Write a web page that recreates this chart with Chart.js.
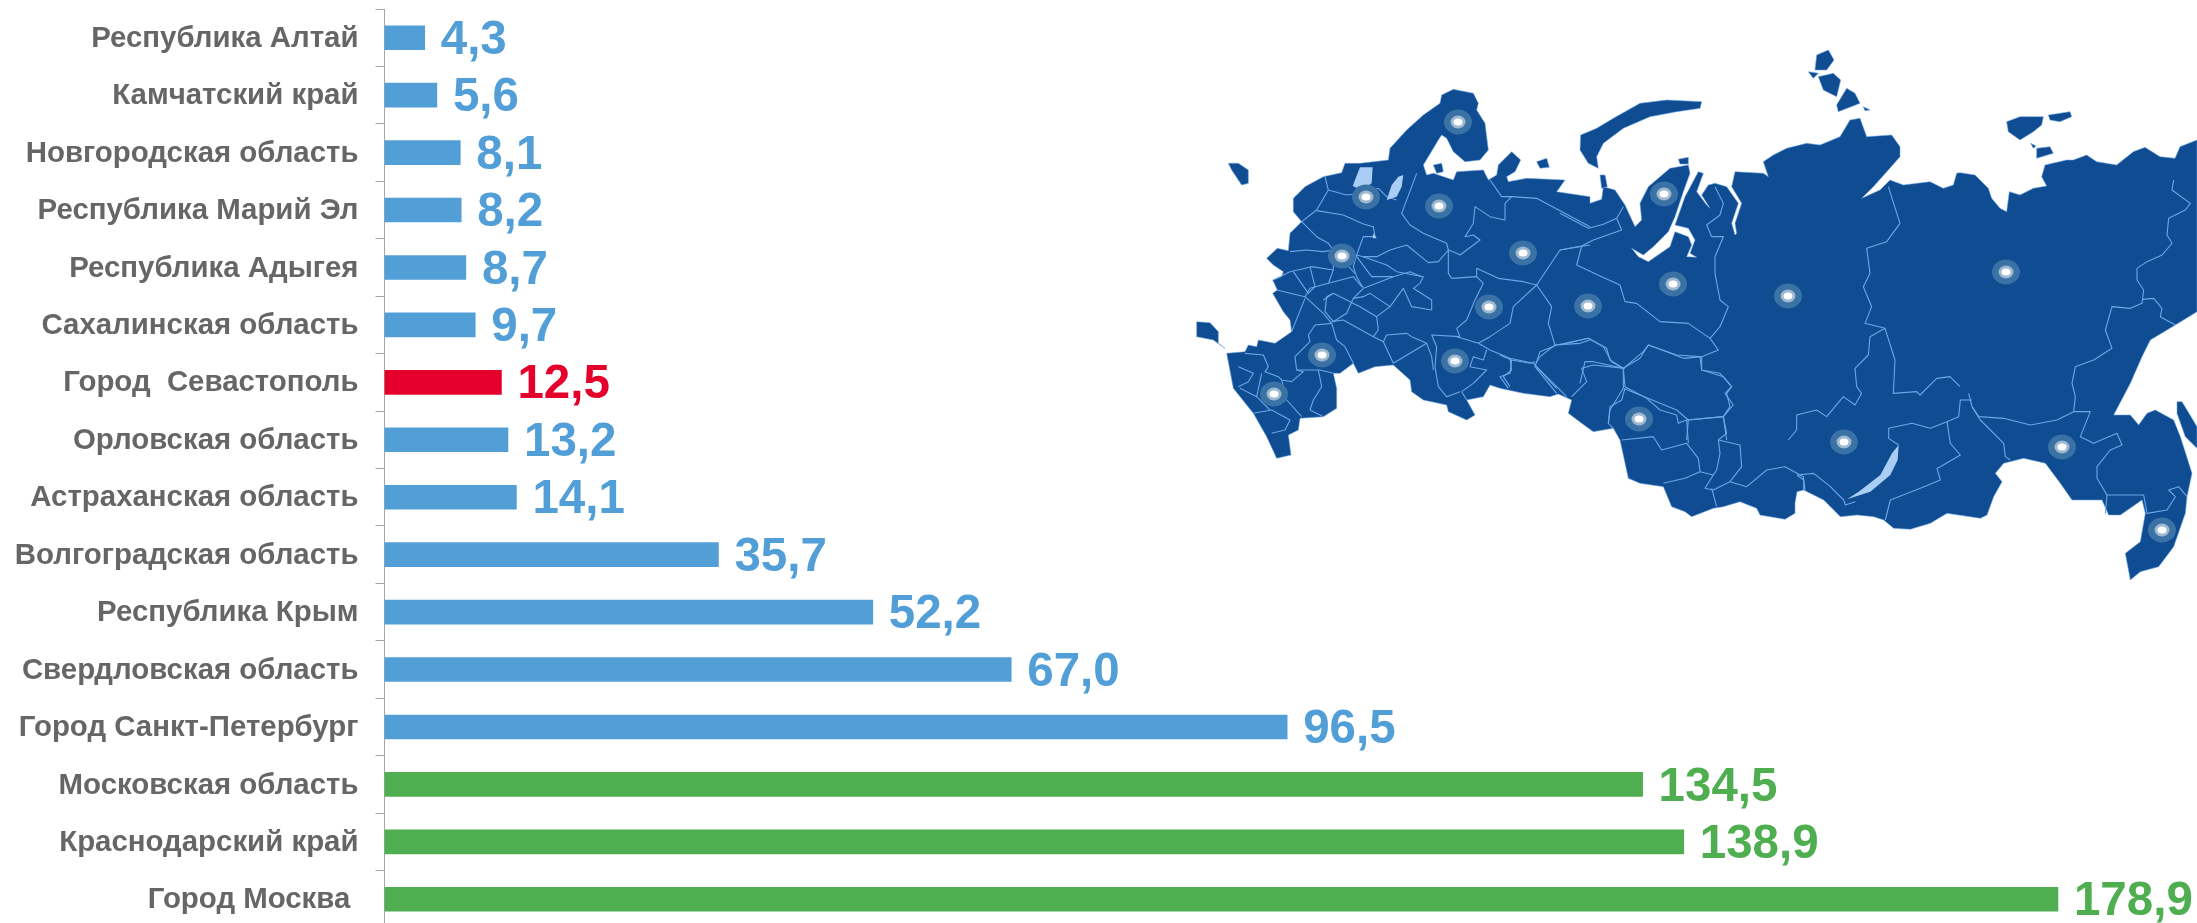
<!DOCTYPE html>
<html><head><meta charset="utf-8">
<style>html,body{margin:0;padding:0;background:#fff;overflow:hidden;width:2197px;height:923px}canvas{display:block}</style>
<script src="https://cdn.jsdelivr.net/npm/chart.js@4"></script></head>
<body><canvas id="c" width="2197" height="928"></canvas>
<script>
const categories=["Республика Алтай","Камчатский край","Новгородская область","Республика Марий Эл","Республика Адыгея","Сахалинская область","Город  Севастополь","Орловская область","Астраханская область","Волгоградская область","Республика Крым","Свердловская область","Город Санкт-Петербург","Московская область","Краснодарский край","Город Москва "];
const values=[4.3,5.6,8.1,8.2,8.7,9.7,12.5,13.2,14.1,35.7,52.2,67.0,96.5,134.5,138.9,178.9];
const BLUE="#529fd8",RED="#e4002b",GREEN="#4fae50";
const barColors=[BLUE,BLUE,BLUE,BLUE,BLUE,BLUE,RED,BLUE,BLUE,BLUE,BLUE,BLUE,BLUE,GREEN,GREEN,GREEN];

// Decorative background map (not data): outlines traced piecewise, each piece in a local 3x tile frame
const TILE={A:[1190,80],B:[1560,40],C:[1797,180],D:[1500,280],E:[1900,60]};
const tr=(k,a)=>a.map((v,i)=>TILE[k][i%2]+v/3);
const mapMain=[
...tr('A',[230,535,262,505,295,512,300,460,335,425,310,395,310,355,345,320,400,290,455,278,465,250,510,250,595,240,600,205,650,150,700,105,750,70,755,45,790,28,850,40,865,70,860,90,885,130,895,210,870,240,825,245,790,215,770,175,755,165,745,180,700,255,710,285,730,280,790,300,800,275,880,270,895,300,920,285,925,255,965,215,992,240,975,275,950,290,955,305,1010,295,1125,300,1100,335,1200,350]),
...tr('B',[90,490,125,478,130,440,165,450,195,495,225,560,245,540,240,490,265,440,330,385,385,375,390,400,370,455,345,530,325,575,280,620,250,645,215,625,235,650,265,665,330,620,345,575,385,590,395,615,380,650,410,652,390,640,405,600,385,565,345,555,375,470,415,395,430,400,410,455,440,495,450,505,425,465,445,435,465,430,500,440,535,490,515,550,525,585,530,580,525,550,545,490,515,440,525,395,610,400,625,410,610,365,640,345,680,325,740,310,780,315,840,290,870,240,900,235,920,290,995,285,1020,320,1020,350,985,390,940,440,905,475,960,450,990,420,1030,435,1110,425,1150,445,1180,435,1190,400,1200,398]),
...tr('E',[225,345,265,385,275,415,300,445,320,455,328,395,360,405,400,385,440,378,425,350,435,315,500,300,520,300,560,285,590,305,650,315,700,275,735,262,780,290,825,295,840,260,891,240]),
...tr('C',[1200,395,1135,435,1060,480,1035,530,1000,610,950,705,1000,705,1025,735,1050,700,1075,690,1130,720,1150,770,1185,880,1170,950,1165,1000,1130,1100,1085,1160,1030,1175,1000,1200,985,1120,1030,1085,1045,1000,1035,960,970,1005,935,1005,915,960,825,960,790,910,745,850,680,835,620,850,595,880,615,905,590,950,570,1005,550,1015,450,1000,400,1030,340,1048,290,1045,260,1020,230,1010,180,1005,130,1010,105,985,80,960,20,930,0,935]),
...tr('D',[885,670,885,700,855,718,780,705,770,685,720,665,670,680,640,685,575,710,555,695,515,680,490,620,420,610,385,595,360,480,340,445,280,455,245,430,205,400,215,360,175,342,150,350,70,340,0,325]),
...tr('A',[900,915,880,950,830,960,855,1005,830,1020,775,995,770,975,700,960,665,935,660,900,610,855,555,860,505,880,490,850,450,880,430,880,440,925,440,985,400,1010,330,1015,325,1050,295,1065,303,1125,260,1135,230,1070,190,1000,130,925,110,820,165,815,175,795,200,800,205,780,255,790,305,755,300,720,280,695,248,640,262,630,248,600,275,590,280,575,250,555])];
const mapIslands=[
tr('A',[115,250,145,250,175,270,175,310,155,315,125,270]),
tr('A',[20,725,60,728,85,755,85,790,105,805,70,780,20,770]),
tr('A',[730,255,755,250,760,275,740,280]),
tr('A',[1040,245,1070,235,1078,262,1050,265]),
tr('B',[425,185,420,205,350,215,270,230,190,265,130,310,110,350,115,385,85,370,60,330,62,285,110,265,160,235,240,190,320,180]),
tr('B',[120,405,135,405,142,440,125,445]),
tr('B',[355,358,385,352,385,372,360,372]),
tr('B',[770,45,805,30,822,60,800,90,765,90]),
tr('B',[745,95,775,100,760,115]),
tr('B',[775,110,820,100,842,120,830,170,790,150]),
tr('B',[860,145,885,160,900,190,835,215,830,195]),
tr('B',[910,200,930,210,915,212]),
tr('E',[320,185,360,170,400,170,430,170,425,195,400,215,360,240,325,215]),
tr('E',[445,165,510,155,515,170,480,185,450,180]),
tr('E',[410,265,450,260,460,280,410,295]),
tr('E',[392,250,408,258,400,265]),
tr('C',[1140,665,1155,665,1200,740,1200,805,1165,770,1140,700])];
const mapLakes=[
tr('A',[510,262,548,262,545,310,515,330,488,318]),
tr('A',[625,290,640,285,635,320,620,350,590,360,605,315]),
tr('A',[550,460,560,475,548,475]),
tr('C',[305,795,302,840,280,885,220,935,150,958,185,935,250,885,285,820])];
const mapBorders=[
tr('A',[405,290,415,330,380,390,335,425,380,470,415,490,430,510]),
tr('A',[415,330,470,345,510,340,565,325,590,350,620,360]),
tr('A',[380,392,460,405,520,432,550,440,555,470,520,470,500,525]),
tr('A',[300,515,350,510,400,515,430,510]),
tr('A',[680,280,635,400,660,435,700,460,770,490,775,510,800,520,810,525,870,480,850,465,825,470,850,430,855,380,900,410,945,420,945,370,965,350,935,350,900,300]),
tr('A',[965,350,1040,355,1200,440]),
tr('A',[775,510,745,545,715,548,650,495,600,510,560,530,520,530,500,525]),
tr('A',[775,510,775,580,785,595,860,590,880,610,855,660,830,720,800,745,810,770]),
tr('A',[860,565,925,595,1000,605,1040,615,1090,540,1110,510,1200,495]),
tr('A',[860,565,860,590]),
tr('A',[1040,615,1085,680,1075,730,1095,795,1170,790,1200,780]),
tr('A',[1040,615,970,680,960,730,900,770,865,790,900,810,960,835,1030,850,1100,920,1130,950]),
tr('A',[810,770,725,765,740,800,735,860,745,920,770,950,810,935]),
tr('A',[865,790,800,770]),
tr('A',[890,810,880,840,850,830,840,860,890,870,850,910,815,935,830,960]),
tr('A',[960,835,965,870,940,890,960,920]),
tr('A',[1095,795,1050,830,1035,855,1080,905,1100,925]),
tr('A',[500,525,490,560,500,590,520,625,490,655,470,700,430,725,405,695,410,650,430,640]),
tr('A',[430,510,495,580]),tr('A',[500,530,545,590,610,590]),
tr('A',[520,530,590,555,620,575,700,590,690,610,670,625,725,660,725,690,665,680,640,625,600,680,540,640,520,650,490,655]),
tr('A',[520,625,610,590,660,575,695,590]),
tr('A',[430,510,430,570,365,560,300,575,250,600]),
tr('A',[360,560,375,620,355,640,310,575]),
tr('A',[430,570,415,610,490,590,515,620]),tr('A',[415,610,360,625,345,650,260,630]),
tr('A',[345,650,400,700,425,730,440,780,465,800,490,850]),
tr('A',[425,725,460,720,550,770,580,785,610,850]),
tr('A',[400,660,430,640,470,660,510,680,560,710]),tr('A',[600,680,560,710,565,750,550,770]),
tr('A',[345,655,305,755]),
tr('A',[425,730,375,735,355,765,360,785,315,830,320,870,340,875,305,905,275,900,265,890,225,875,235,860,220,825,165,820]),
tr('A',[320,870,390,870,430,880]),tr('A',[385,870,395,920,370,960,360,990,400,1010]),
tr('A',[275,900,290,960,335,1010]),
tr('A',[215,880,200,950,150,925]),tr('A',[145,860,190,880,175,905,145,920]),
tr('A',[190,1000,245,990,300,1020,285,1050,245,1060]),tr('A',[200,950,240,990]),
tr('A',[580,785,590,765,650,760,665,770,710,790,610,850]),
tr('A',[710,790,725,830,730,870]),
tr('B',[0,520,85,565,130,553,170,535,190,500]),
tr('B',[170,535,185,570,100,600,65,618,0,630]),
tr('B',[65,618,50,675,125,710,180,735,195,785,230,790,300,845,385,850,450,895,475,930,425,950,370,955,320,935,265,915,240,955,190,985,100,965,75,965,60,1030]),
tr('B',[0,915,85,895,130,920,155,965,190,985,190,1045,150,1110,145,1150]),
tr('B',[465,440,490,490,480,525,440,555,455,590,490,590,465,650,465,700,480,780,505,800,480,860,450,895]),
tr('B',[425,950,425,990,490,1010,515,1040,495,1060,520,1095,490,1130,385,1140,350,1110,190,1045]),
tr('B',[385,1140,380,1200]),tr('B',[490,1130,500,1200]),
tr('B',[985,440,1020,550,980,605,920,625,930,700,910,740,935,800,915,850,975,865,1005,960,1000,1060,1070,1055,1080,1065,1130,1015,1170,1010,1200,1040]),
tr('B',[975,865,930,890,925,945,885,985,890,1040,905,1060,885,1095,850,1070,800,1130,770,1110,710,1125,710,1170,685,1200]),
tr('C',[515,640,525,680,545,710,620,715,700,735,780,720,830,695,880,695,850,770,890,790,960,760,975,795,940,810,900,860,900,895,930,945,1040,945,1050,1000,1110,990,1135,950,1115,930,1145,920,1170,950]),
tr('C',[830,695,835,650,825,610,835,560,890,540,945,505,925,450,945,380,1000,385,1035,370,1040,330,1020,300,1020,265,1050,245,1095,225,1125,190,1110,165,1115,115,1165,90,1180,70,1125,30,1130,0]),
tr('C',[1035,358,1070,355,1095,385,1090,410,1135,435]),
tr('C',[490,660,485,710,450,725,400,745,345,730,275,745,275,775,305,795]),tr('C',[490,660,525,660]),
tr('C',[450,725,460,790,490,825,430,860,420,865,430,900,370,925,280,960,265,1020]),
tr('C',[525,680,550,720,620,790,625,830,640,840]),
tr('C',[930,945,925,1000]),
tr('C',[0,885,50,880,100,920,140,960,145,975,175,965]),tr('C',[0,885,20,900,20,930]),
tr('D',[370,265,375,320,440,355,480,390,530,405,535,430,545,425,560,420,670,410,690,380,680,340,695,320,660,280,605,270,600,230]),
tr('D',[370,265,330,240,320,205,265,175,170,195,120,215,105,260,170,340]),
tr('D',[375,265,280,255,245,265,260,305,215,350]),
tr('D',[375,325,365,360,330,380,325,430,340,445]),
tr('D',[365,480,460,470,485,510,560,490,595,535,600,575,640,585,615,625,640,630,690,605,740,620,800,570,855,560,910,590,915,630]),
tr('D',[560,420,565,490]),
tr('D',[670,410,680,460,655,480,720,495,725,560,690,605]),
tr('D',[655,480,660,520,650,570,640,585]),
tr('D',[490,610,555,595,600,575]),
tr('D',[635,625,650,680]),
tr('D',[370,265,430,215,445,195,530,225,600,230]),
tr('D',[0,225,35,240,90,250,105,245]),tr('D',[35,240,30,280,0,290,25,325])];
const mapSpots=[1458,122,1366,197,1439,206,1523,253,1342,256,1489,307,1322,355,1455,361,1274,394,1664,194,1673,284,1588,306,1788,296,2006,272,1844,442,2062,447,2162,530,1639,419];

function tracePoly(ctx,p,close){ctx.beginPath();for(let i=0;i<p.length;i+=2){i?ctx.lineTo(p[i],p[i+1]):ctx.moveTo(p[i],p[i+1]);}if(close)ctx.closePath();}
const mapPlugin={id:'map',beforeDraw(chart){
  const ctx=chart.ctx;ctx.save();ctx.lineJoin='round';
  [mapMain,...mapIslands].forEach(p=>{tracePoly(ctx,p,true);ctx.fillStyle='#0f4c92';ctx.fill();ctx.strokeStyle='rgba(110,165,230,.55)';ctx.lineWidth=1;ctx.stroke();});
  ctx.strokeStyle='#6ea6e6';ctx.lineWidth=1.1;
  mapBorders.forEach(p=>{tracePoly(ctx,p,false);ctx.stroke();});
  ctx.fillStyle='#a9cdf5';
  mapLakes.forEach(p=>{tracePoly(ctx,p,true);ctx.fill();});
  for(let i=0;i<mapSpots.length;i+=2){
    const X=mapSpots[i],Y=mapSpots[i+1];
    ctx.fillStyle='#3a72a5';ctx.beginPath();ctx.ellipse(X,Y,14,12.5,0,0,7);ctx.fill();
    ctx.fillStyle='#9fb9d0';ctx.beginPath();ctx.ellipse(X,Y,7.5,6.5,0,0,7);ctx.fill();
    ctx.fillStyle='#fff';ctx.beginPath();ctx.ellipse(X,Y,4.5,3.5,0,0,7);ctx.fill();
  }
  ctx.restore();
}};
const valueLabels={id:'valueLabels',afterDatasetsDraw(chart){
  const ctx=chart.ctx,meta=chart.getDatasetMeta(0);ctx.save();
  ctx.font='bold 47.5px "Liberation Sans"';ctx.textBaseline='middle';ctx.textAlign='left';
  meta.data.forEach((bar,i)=>{ctx.fillStyle=barColors[i];
    ctx.fillText(values[i].toFixed(1).replace('.',','),bar.x+16,bar.y+3);});
  ctx.restore();
}};
new Chart(document.getElementById('c'),{type:'bar',
  data:{labels:categories,datasets:[{data:values,backgroundColor:barColors,barThickness:24,borderWidth:0}]},
  plugins:[mapPlugin,valueLabels],
  options:{indexAxis:'y',responsive:false,animation:false,
    layout:{padding:{top:9,left:0,right:0,bottom:0}},
    plugins:{legend:{display:false},tooltip:{enabled:false},title:{display:false}},
    scales:{
      x:{display:false,min:0,max:(2197-384.5)/9.354},
      y:{reverse:false,
        afterFit(s){s.width=384.5;s.paddingTop=0;s.paddingBottom=0;},
        border:{display:true,color:'#a6a6a6',width:1},
        grid:{display:true,drawOnChartArea:false,drawTicks:true,tickLength:9,color:'#a6a6a6',offset:true},
        ticks:{color:'#666666',autoSkip:false,padding:17,labelOffset:1,font:{family:'"Liberation Sans"',weight:'bold',size:29.4}}
      }
    }
  }
});
</script></body></html>
